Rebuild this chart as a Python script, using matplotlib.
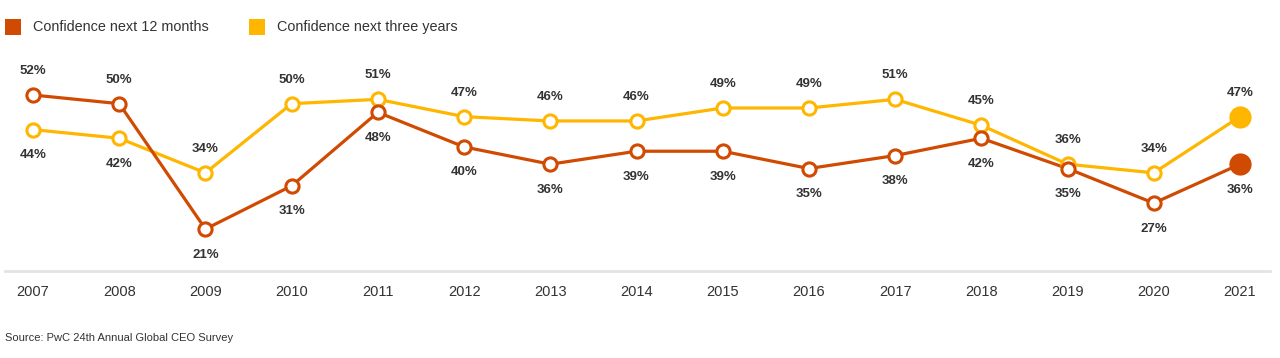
import matplotlib
matplotlib.use("Agg")
import matplotlib.pyplot as plt
from matplotlib.patches import Rectangle

years = [2007, 2008, 2009, 2010, 2011, 2012, 2013, 2014, 2015, 2016, 2017, 2018, 2019, 2020, 2021]
conf_12m = [52, 50, 21, 31, 48, 40, 36, 39, 39, 35, 38, 42, 35, 27, 36]
conf_3y = [44, 42, 34, 50, 51, 47, 46, 46, 49, 49, 51, 45, 36, 34, 47]
series_names = ["Confidence next 12 months", "Confidence next three years"]
source = "Source: PwC 24th Annual Global CEO Survey"

c12 = "#D04A02"
c3 = "#FFB600"
txt = "#333333"

plt.rcParams["font.family"] = ["Liberation Sans", "DejaVu Sans"]

W, H = 1280, 358
fig = plt.figure(figsize=(W / 100, H / 100), dpi=100)
ax = fig.add_axes([5 / W, (H - 271) / H, 1265 / W, 211 / H])
ax.set_xlim(2006.675, 2021.348)
ax.set_ylim(11.3, 60.1)

for vals, col in [(conf_3y, c3), (conf_12m, c12)]:
    ax.plot(years, vals, color=col, lw=2.3, zorder=2, solid_capstyle="round")
    ax.plot(years[:-1], vals[:-1], "o", ms=9.5, mfc="white", mec=col, mew=2.2, zorder=3)
    ax.plot(years[-1:], vals[-1:], "o", ms=16, mfc=col, mec=col, mew=0, zorder=3)

for i, y in enumerate(years):
    a, b = conf_12m[i], conf_3y[i]
    for v, other in [(a, b), (b, a)]:
        if v >= other:
            ax.annotate(f"{v}%", (y, v), xytext=(0, 13), textcoords="offset points",
                        ha="center", va="bottom", fontsize=9.5, fontweight="bold", color=txt)
        else:
            ax.annotate(f"{v}%", (y, v), xytext=(0, -14), textcoords="offset points",
                        ha="center", va="top", fontsize=9.5, fontweight="bold", color=txt)

for s in ["top", "right", "left"]:
    ax.spines[s].set_visible(False)
ax.spines["bottom"].set_color("#e3e3e3")
ax.spines["bottom"].set_linewidth(2)
ax.set_yticks([])
ax.set_xticks(years)
ax.set_xticklabels([str(y) for y in years], fontsize=10.5, color=txt)
ax.tick_params(axis="x", length=0, pad=10)

# legend
fig.add_artist(Rectangle((5 / W, (H - 35) / H), 16 / W, 16 / H, transform=fig.transFigure,
                         color=c12, lw=0))
fig.text(33 / W, (H - 27) / H, series_names[0], fontsize=10.4, color=txt, va="center")
fig.add_artist(Rectangle((249 / W, (H - 35) / H), 16 / W, 16 / H, transform=fig.transFigure,
                         color=c3, lw=0))
fig.text(277 / W, (H - 27) / H, series_names[1], fontsize=10.4, color=txt, va="center")

fig.text(5 / W, (H - 338) / H, source, fontsize=8, color=txt, va="center")

fig.savefig("out.png", dpi=100)
